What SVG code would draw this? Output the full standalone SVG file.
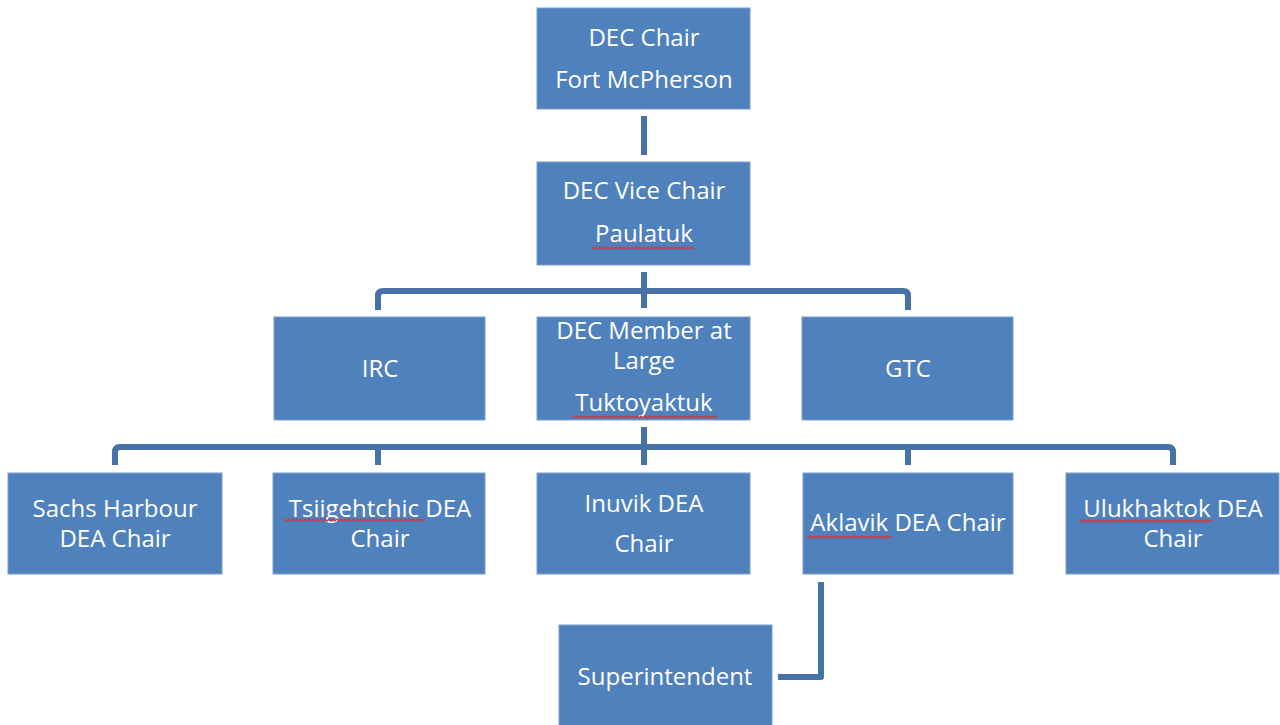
<svg xmlns="http://www.w3.org/2000/svg" width="1280" height="725" viewBox="0 0 1280 725">
<style>
.box{fill:#4f81bd;stroke:#7b9fcf;stroke-width:1}
.t{font-family:"Open Sans","Liberation Sans",sans-serif;font-size:24px;fill:#ffffff;text-anchor:middle}
.c{fill:none;stroke:#4672a8;stroke-width:6;stroke-linejoin:round}
.sq{fill:none;stroke:#e03030;stroke-width:1.2}
</style>
<rect width="1280" height="725" fill="#ffffff"/>
<g id="connectors">
<path class="c" d="M644 116V155"/>
<path class="c" d="M644 272V308"/>
<path class="c" d="M378 310V296Q378 291 383 291H903Q908 291 908 296V310"/>
<path class="c" d="M644 427V465"/>
<path class="c" d="M115 465V452Q115 447 120 447H1168Q1173 447 1173 452V465"/>
<path class="c" d="M378 447V465"/>
<path class="c" d="M908 447V465"/>
<path class="c" d="M821 582V677H778"/>
</g>
<g id="dec-chair"><rect class="box" x="537" y="8" width="213" height="101"/>
<text class="t" x="644" y="46">DEC Chair</text><text class="t" x="644" y="88">Fort McPherson</text></g>
<g id="dec-vice-chair"><rect class="box" x="537" y="162" width="213" height="103"/>
<text class="t" x="644" y="199">DEC Vice Chair</text><text class="t" x="644" y="242">Paulatuk</text>
<polyline class="sq" points="592,247 594,249 596,247 598,249 600,247 602,249 604,247 606,249 608,247 610,249 612,247 614,249 616,247 618,249 620,247 622,249 624,247 626,249 628,247 630,249 632,247 634,249 636,247 638,249 640,247 642,249 644,247 646,249 648,247 650,249 652,247 654,249 656,247 658,249 660,247 662,249 664,247 666,249 668,247 670,249 672,247 674,249 676,247 678,249 680,247 682,249 684,247 686,249 688,247 690,249 692,247 694,249"/></g>
<g id="irc"><rect class="box" x="274" y="317" width="211" height="103"/>
<text class="t" x="380" y="377">IRC</text></g>
<g id="dec-member"><rect class="box" x="537" y="317" width="213" height="103"/>
<text class="t" x="644" y="339">DEC Member at</text><text class="t" x="644" y="369">Large</text><text class="t" x="644" y="411">Tuktoyaktuk</text>
<polyline class="sq" points="573,416 575,418 577,416 579,418 581,416 583,418 585,416 587,418 589,416 591,418 593,416 595,418 597,416 599,418 601,416 603,418 605,416 607,418 609,416 611,418 613,416 615,418 617,416 619,418 621,416 623,418 625,416 627,418 629,416 631,418 633,416 635,418 637,416 639,418 641,416 643,418 645,416 647,418 649,416 651,418 653,416 655,418 657,416 659,418 661,416 663,418 665,416 667,418 669,416 671,418 673,416 675,418 677,416 679,418 681,416 683,418 685,416 687,418 689,416 691,418 693,416 695,418 697,416 699,418 701,416 703,418 705,416 707,418 709,416 711,418 713,416 715,418 717,416"/></g>
<g id="gtc"><rect class="box" x="802" y="317" width="211" height="103"/>
<text class="t" x="908" y="377">GTC</text></g>
<g id="sachs-harbour"><rect class="box" x="8" y="473" width="214" height="101"/>
<text class="t" x="115" y="517">Sachs Harbour</text><text class="t" x="115" y="547">DEA Chair</text></g>
<g id="tsiigehtchic"><rect class="box" x="273" y="473" width="212" height="101"/>
<text class="t" x="380" y="517">Tsiigehtchic DEA</text><text class="t" x="380" y="547">Chair</text>
<polyline class="sq" points="285,519 287,521 289,519 291,521 293,519 295,521 297,519 299,521 301,519 303,521 305,519 307,521 309,519 311,521 313,519 315,521 317,519 319,521 321,519 323,521 325,519 327,521 329,519 331,521 333,519 335,521 337,519 339,521 341,519 343,521 345,519 347,521 349,519 351,521 353,519 355,521 357,519 359,521 361,519 363,521 365,519 367,521 369,519 371,521 373,519 375,521 377,519 379,521 381,519 383,521 385,519 387,521 389,519 391,521 393,519 395,521 397,519 399,521 401,519 403,521 405,519 407,521 409,519 411,521 413,519 415,521 417,519 419,521 421,519 423,521 425,519"/></g>
<g id="inuvik"><rect class="box" x="537" y="473" width="213" height="101"/>
<text class="t" x="644" y="512">Inuvik DEA</text><text class="t" x="644" y="552">Chair</text></g>
<g id="aklavik"><rect class="box" x="803" y="473" width="210" height="101"/>
<text class="t" x="908" y="531">Aklavik DEA Chair</text>
<polyline class="sq" points="807,536 809,538 811,536 813,538 815,536 817,538 819,536 821,538 823,536 825,538 827,536 829,538 831,536 833,538 835,536 837,538 839,536 841,538 843,536 845,538 847,536 849,538 851,536 853,538 855,536 857,538 859,536 861,538 863,536 865,538 867,536 869,538 871,536 873,538 875,536 877,538 879,536 881,538 883,536 885,538 887,536 889,538 891,536"/></g>
<g id="ulukhaktok"><rect class="box" x="1066" y="473" width="213" height="101"/>
<text class="t" x="1173" y="517">Ulukhaktok DEA</text><text class="t" x="1173" y="547">Chair</text>
<polyline class="sq" points="1080,520 1082,522 1084,520 1086,522 1088,520 1090,522 1092,520 1094,522 1096,520 1098,522 1100,520 1102,522 1104,520 1106,522 1108,520 1110,522 1112,520 1114,522 1116,520 1118,522 1120,520 1122,522 1124,520 1126,522 1128,520 1130,522 1132,520 1134,522 1136,520 1138,522 1140,520 1142,522 1144,520 1146,522 1148,520 1150,522 1152,520 1154,522 1156,520 1158,522 1160,520 1162,522 1164,520 1166,522 1168,520 1170,522 1172,520 1174,522 1176,520 1178,522 1180,520 1182,522 1184,520 1186,522 1188,520 1190,522 1192,520 1194,522 1196,520 1198,522 1200,520 1202,522 1204,520 1206,522 1208,520 1210,522 1212,520"/></g>
<g id="superintendent"><rect class="box" x="559" y="625" width="213" height="101"/>
<text class="t" x="665" y="685">Superintendent</text></g>
</svg>
